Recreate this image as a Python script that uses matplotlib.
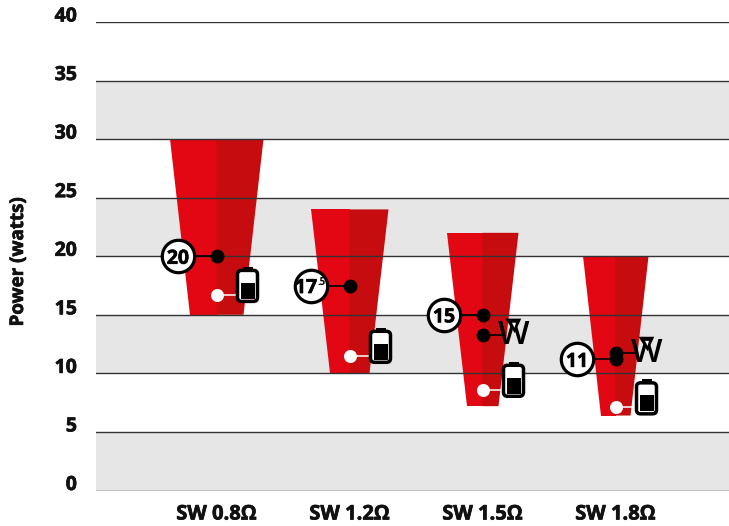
import matplotlib
matplotlib.use('Agg')
import matplotlib.pyplot as plt
import matplotlib.patheffects as pe
from matplotlib.patches import Polygon, FancyBboxPatch, Rectangle

plt.rcParams['font.family'] = ['Open Sans', 'DejaVu Sans']

categories = ['SW 0.8Ω', 'SW 1.2Ω', 'SW 1.5Ω', 'SW 1.8Ω']
tops = [30, 24, 22, 20]
bottoms = [15, 10, 7.2, 6.4]
top_half = [47, 39, 36, 33]
bottom_half = [27, 20, 16, 15]
rated = [20, 17.5, 15, 11.2]
rated_labels = ['20', '17', '15', '11']
measured = [None, None, 13.3, 11.75]
battery_power = [16.7, 11.5, 8.6, 7.1]
yticks = [0, 5, 10, 15, 20, 25, 30, 35, 40]

RED = '#E30613'
DARK = '#C60C0F'
GREY = '#E6E6E6'
LINE = '#333333'
heavy = [pe.withStroke(linewidth=0.5, foreground='#111111')]

W, H = 729, 526
fig = plt.figure(figsize=(W / 100, H / 100), dpi=100)
ax = fig.add_axes([96 / W, (H - 490.5) / H, (W - 96) / W, (490.5 - 22) / H])

# one category is 133 px wide, one watt is 11.71 px tall
px = 1 / 133
py = 40 / 468.5
ax.set_xlim(-120.5 * px, 512.5 * px)
ax.set_ylim(0, 40)
ax.axis('off')

for y in yticks[:-1:2]:
    ax.axhspan(y, y + 5, color=GREY, lw=0, zorder=1)

for i in range(4):
    ax.add_patch(Polygon([(i - top_half[i] * px, tops[i]), (i, tops[i]), (i, bottoms[i]),
                          (i - bottom_half[i] * px, bottoms[i])], color=RED, lw=0, zorder=2))
    ax.add_patch(Polygon([(i, tops[i]), (i + top_half[i] * px, tops[i]),
                          (i + bottom_half[i] * px, bottoms[i]), (i, bottoms[i])], color=DARK, lw=0, zorder=2))

for y in yticks:
    ax.axhline(y, color=LINE, lw=1.0, zorder=3)
    ax.text(-139.5 * px, y + 5.5 * py, str(y), ha='right', va='center', fontsize=14, fontweight='bold',
            color='#111111', clip_on=False, path_effects=heavy)


def battery(x, y):
    # x, y = white dot, the icon sits to its right
    cx = x + 31 * px
    cy = y + 9 * py
    w, h = 20 * px, 31 * py
    ax.add_patch(Rectangle((cx - 5 * px, cy + h / 2), 10 * px, 3.5 * py, color='black', lw=0, zorder=6))
    ax.add_patch(FancyBboxPatch((cx - w / 2, cy - h / 2), w, h, boxstyle='round,pad=0,rounding_size=0.03',
                                mutation_aspect=py / px, fc='white', ec='black', lw=2.5, zorder=6))
    ax.add_patch(Rectangle((cx - 7 * px, cy - 13 * py), 14 * px, 16 * py, color='black', lw=0, zorder=7))


def watt_icon(x, y):
    ax.text(x, y - 1 * py, 'W', ha='center', va='center', fontsize=24, fontweight='semibold',
            color='black', zorder=6)
    ax.add_patch(Polygon([(x - 6 * px, y + 15 * py), (x + 6 * px, y + 15 * py), (x + 1 * px, y + 4 * py)],
                         fc='black', ec='black', lw=1.6, zorder=6))
    ax.add_patch(Polygon([(x - 1.5 * px, y + 12 * py), (x + 2.5 * px, y + 12 * py), (x + 1 * px, y + 7 * py)],
                         fc='white', lw=0, zorder=7))


for i in range(4):
    ax.plot([i - 38.5 * px, i], [rated[i], rated[i]], color='black', lw=1.2, zorder=4)
    ax.scatter([i - 38.5 * px], [rated[i]], s=545, fc='white', ec='black', lw=2.3, zorder=5)
    ax.text(i - 38.5 * px - (5 * px if i == 1 else 0), rated[i], rated_labels[i], ha='center',
            va='center_baseline', fontsize=14, fontweight='bold', color='black', zorder=6, path_effects=heavy)
    ax.scatter([i], [rated[i]], s=100, color='black', lw=0, zorder=5)

    if measured[i] is not None:
        ax.plot([i, i + 20 * px], [measured[i], measured[i]], color='black', lw=1.2, zorder=4)
        ax.scatter([i], [measured[i]], s=100, color='black', lw=0, zorder=5)
        watt_icon(i + 31 * px, measured[i])

    ax.plot([i, i + 22 * px], [battery_power[i], battery_power[i]], color='white', lw=1.1, zorder=4)
    ax.scatter([i], [battery_power[i]], s=88, color='white', lw=0, zorder=5)
    battery(i, battery_power[i])

    ax.text(i, -2.05, categories[i], ha='center', va='center', fontsize=14.5, fontweight='bold',
            color='#111111', clip_on=False, path_effects=heavy)

ax.text(1 - 28 * px, rated[1] + 0.25, '.5', ha='center', va='center', fontsize=7,
        fontweight='bold', color='black', zorder=6)

fig.text(18 / W, 1 - 262 / H, 'Power (watts)', rotation=90, ha='center', va='center',
         fontsize=13.5, fontweight='bold', color='#111111', path_effects=heavy)

fig.savefig('out.png', dpi=100)
